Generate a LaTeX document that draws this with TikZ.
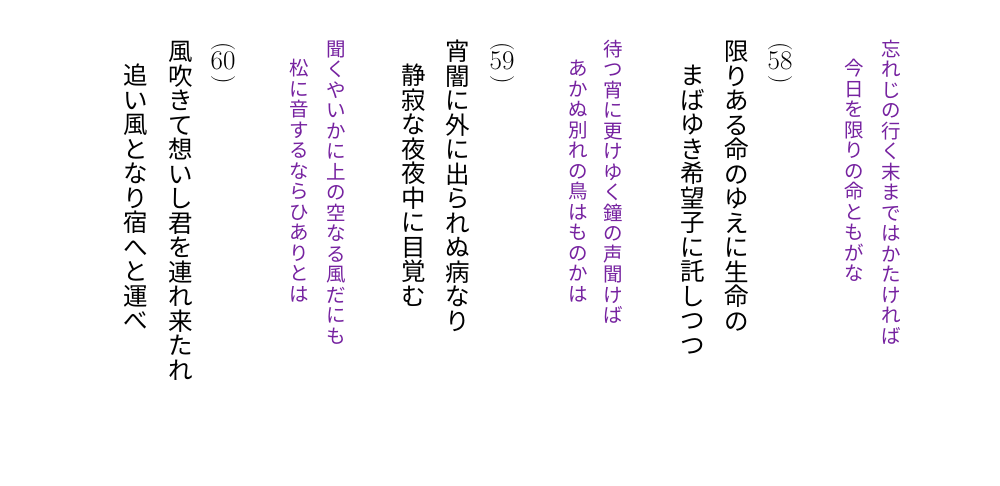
\documentclass[tikz,border=0pt]{standalone}
\usepackage{fontspec}
\newfontfamily\jpfont{Noto Sans CJK JP}
\definecolor{poem}{RGB}{118,34,160}
\newdimen\vcolw
\def\vcolitem#1{\ifx#1\relax\else\hbox to \vcolw{\hss\vrule height 0.88\vcolw depth 0.12\vcolw width 0pt\relax #1\hss}\expandafter\vcolitem\fi}
\newcommand\vcolumn[2]{\vbox{\offinterlineskip\vcolw=#1\relax\vcolitem#2\relax}}
\tikzset{
  classic/.style={anchor=north, inner sep=0pt, text=poem, font=\jpfont\fontsize{19.5pt}{19.5pt}\selectfont},
  modern/.style={anchor=north, inner sep=0pt, text=black, font=\jpfont\fontsize{24.5pt}{24.5pt}\selectfont},
  numtxt/.style={inner sep=0pt, font=\fontsize{27pt}{27pt}\selectfont},
  bracket/.style={inner sep=0pt, rotate=-90, font=\fontsize{24pt}{24pt}\selectfont}
}
\begin{document}
\begin{tikzpicture}[x=1pt,y=-1pt]
\useasboundingbox (0,0) rectangle (1000,485);
\fill[white] (0,0) rectangle (1000,485);
% 58
\node[classic] (a1) at (891,38) {\vcolumn{20.5pt}{忘れじの行く末まではかたければ}};
\node[classic] (a2) at (854,57.5) {\vcolumn{20.5pt}{今日を限りの命ともがな}};
\node[bracket] (n58o) at (780,46.5) {(};
\node[numtxt] (n58) at (780,61) {58};
\node[bracket] (n58c) at (780,80) {)};
\node[modern] (b1) at (737,39) {\vcolumn{24.5pt}{限りある命のゆえに生命の}};
\node[modern] (b2) at (693,63) {\vcolumn{24.5pt}{まばゆき希望子に託しつつ}};
% 59
\node[classic] (c1) at (613,38) {\vcolumn{20.5pt}{待つ宵に更けゆく鐘の声聞けば}};
\node[classic] (c2) at (578,57.5) {\vcolumn{20.5pt}{あかぬ別れの鳥はものかは}};
\node[bracket] (n59o) at (502,46.5) {(};
\node[numtxt] (n59) at (502,61) {59};
\node[bracket] (n59c) at (502,80) {)};
\node[modern] (d1) at (458,39) {\vcolumn{24.5pt}{宵闇に外に出られぬ病なり}};
\node[modern] (d2) at (414,63) {\vcolumn{24.5pt}{静寂な夜夜中に目覚む}};
% 60
\node[classic] (e1) at (336,38) {\vcolumn{20.5pt}{聞くやいかに上の空なる風だにも}};
\node[classic] (e2) at (299,57.5) {\vcolumn{20.5pt}{松に音するならひありとは}};
\node[bracket] (n60o) at (223,46.5) {(};
\node[numtxt] (n60) at (223,61) {60};
\node[bracket] (n60c) at (223,80) {)};
\node[modern] (f1) at (181,39) {\vcolumn{24.5pt}{風吹きて想いし君を連れ来たれ}};
\node[modern] (f2) at (136,63) {\vcolumn{24.5pt}{追い風となり宿へと運べ}};
\end{tikzpicture}
\end{document}
